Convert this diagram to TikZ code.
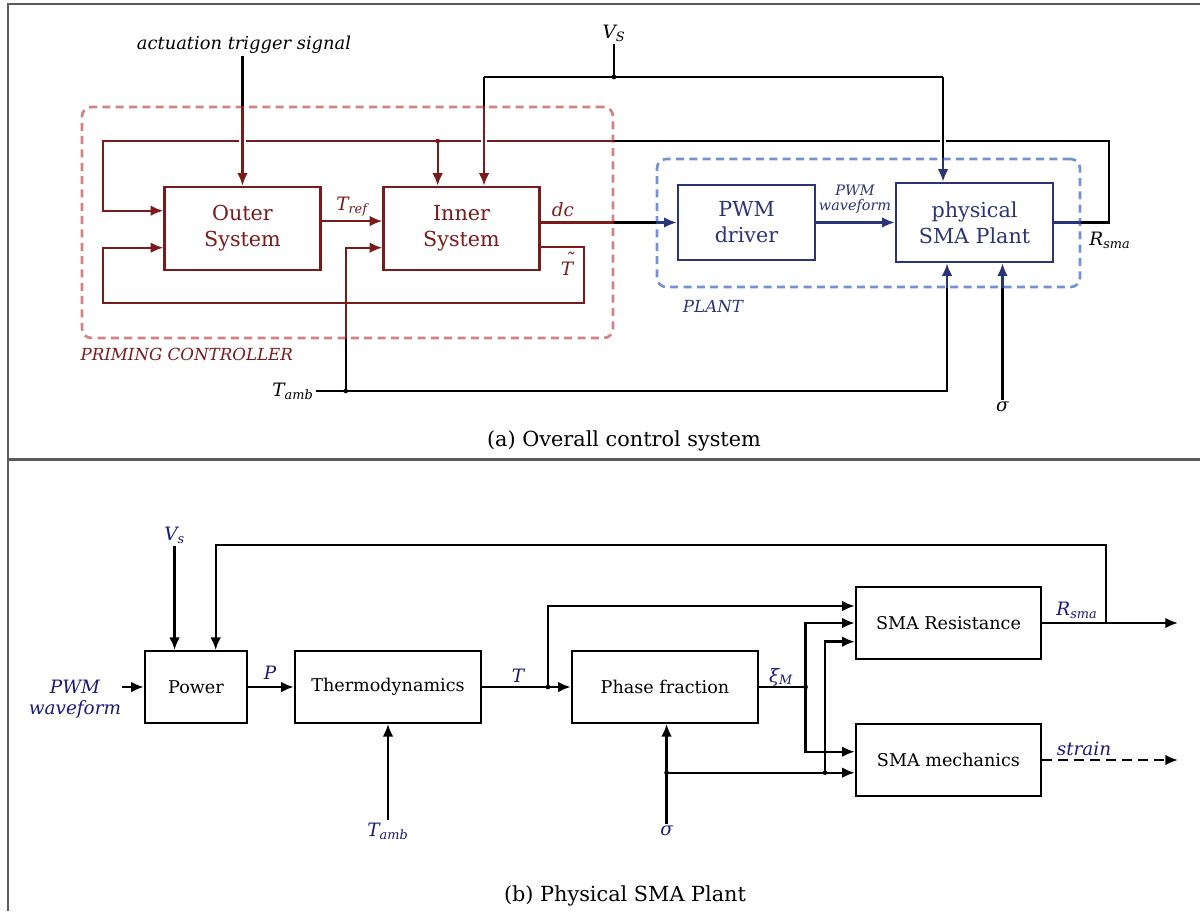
\documentclass[tikz,border=0pt]{standalone}
\usepackage{fontspec}
\setmainfont{DejaVu Serif}
\usetikzlibrary{arrows.meta,calc}
\definecolor{cred}{RGB}{122,26,26}
\definecolor{cdash}{RGB}{210,130,130}
\definecolor{cnavy}{RGB}{42,52,120}
\definecolor{cblue}{RGB}{115,145,212}
\definecolor{clab}{RGB}{25,25,120}
\definecolor{cframe}{RGB}{90,90,90}
\newcommand\fboxA{\fontsize{15.5}{19.5}\selectfont}
\newcommand\fboxB{\fontsize{13.2}{16}\selectfont}
\newcommand\flab{\fontsize{13.8}{15.5}\selectfont\itshape}
\newcommand\fsmall{\fontsize{10.8}{12}\selectfont\itshape}
\newcommand\fcap{\fontsize{15.6}{18}\selectfont}
\newcommand\Ttilde{\makebox[0pt][l]{\hspace{0.22em}\raisebox{0.5em}{\char"02DC}}T}
\begin{document}
\begin{tikzpicture}[x=0.75pt,y=-0.75pt,
  >={Latex[length=9.5pt,width=8pt]},
  every path/.style={line width=1.8pt},
  redbox/.style={draw=cred,line width=1.8pt,text=cred,font=\fboxA,align=center,inner sep=0pt,minimum width=117pt,minimum height=62.3pt},
  navybox/.style={draw=cnavy,line width=1.8pt,text=cnavy,font=\fboxA,align=center,inner sep=0pt},
  blkbox/.style={draw=black,line width=1.8pt,font=\fboxB,align=center,inner sep=0pt,minimum height=53.6pt},
  dashbox/.style={draw,dashed,dash pattern=on 6pt off 4pt,line width=2pt,rounded corners=7pt,inner sep=0pt},
  lab/.style={font=\flab,inner sep=1pt},
  dot/.style={circle,fill,inner sep=0pt,minimum size=3.5pt},
  halo/.style={draw=white,line width=5pt}
]
\useasboundingbox (0,0) rectangle (1200,911);
% frame
\draw[cframe,line width=1.1pt] (8,911) -- (8,4) -- (1200,4);
\draw[cframe,line width=1.6pt] (8,459.5) -- (1200,459.5);

% ===== (a) =====
\node[dashbox,draw=cdash,minimum width=398.25pt,minimum height=173.25pt] (prim) at (347.5,222.5) {};
\node[dashbox,draw=cblue,minimum width=317.25pt,minimum height=96pt] (pbox) at (868.5,223) {};

\node[redbox] (outer) at (242.5,228.5) {Outer\\System};
\node[redbox] (inner) at (461.5,228.5) {Inner\\System};
\node[navybox,minimum width=102.8pt,minimum height=56.3pt] (pwm) at (746.5,222.5) {PWM\\driver};
\node[navybox,minimum width=117.8pt,minimum height=59.3pt] (plant) at (974.5,222.5) {physical\\SMA Plant};

\node[lab,font=\fontsize{13.4}{15}\selectfont\itshape] (trig) at (244,45) {actuation trigger signal};
\node[lab] (vsT) at (614,33) {V\textsubscript{S}};
\node[lab,anchor=east] (tambT) at (316,391) {T\textsubscript{amb}};
\node[lab] (sigT) at (1002.5,407) {σ};
\node[lab,text=cred] (trefL) at (352,207) {T\textsubscript{ref}};
\node[lab,text=cred] (dcL) at (563,210) {dc};
\node[lab,text=cred] (ttL) at (567,264) {\Ttilde};
\node[lab] (rsL) at (1110,240) {R\textsubscript{sma}};
\node[font=\fsmall,text=cnavy,align=center,inner sep=0pt] (pwL) at (855,199) {PWM\\[-1pt]waveform};
\node[lab,text=cnavy,font=\fontsize{12.5}{14}\selectfont\itshape] (plL) at (713,307) {PLANT};
\node[lab,text=cred,anchor=west,font=\fontsize{12.5}{14}\selectfont\itshape] (prL) at (78,354) {PRIMING CONTROLLER};
\node[font=\fcap] (capA) at (624,441) {(a) Overall control system};

\coordinate (vsdot) at (614,77);
\coordinate (lr) at (1109,141);
\coordinate (fbx) at (102.7,141);
\coordinate (bd) at (437.7,141);
\coordinate (tt) at (584,303);
\coordinate (tdot) at (345.7,391);
\coordinate (iv) at ([xshift=16.9pt]inner.north);
\coordinate (pv) at ([xshift=-23.6pt]plant.north);
\coordinate (pb) at ([xshift=-20.6pt]plant.south);
\coordinate (dcs) at (inner.east |- pwm.west);
\coordinate (tg) at (outer.north |- trig.south);

% top feedback loop (R_sma)
\draw[cnavy] (plant.east) -- (plant.east -| pbox.east);
\draw (plant.east -| pbox.east) -| (lr) -- (lr -| prim.east);
\draw[cred,->] (lr -| prim.east) -- (fbx) |- ([yshift=13.35pt]outer.west);
\draw[cred,->] (bd) -- (bd |- inner.north);
\node[dot,cred] at (bd) {};

% halos at crossings
\draw[halo] ($(outer.north |- fbx)+(0,-4)$) -- ++(0,8);
\draw[halo] ($(iv |- fbx)+(0,-4)$) -- ++(0,8);
\draw[halo] ($(pv |- fbx)+(0,-4)$) -- ++(0,8);

% actuation trigger
\draw (tg) -- (tg |- prim.north);
\draw[cred,->] (tg |- prim.north) -- (outer.north);

% V_S
\draw (vsT.south) -- (vsdot);
\draw (iv |- vsdot) -- (pv |- vsdot);
\draw (iv |- vsdot) -- (iv |- prim.north);
\draw[cred,->] (iv |- prim.north) -- (iv);
\draw (pv |- vsdot) -- (pv |- pbox.north);
\draw[cnavy,->] (pv |- pbox.north) -- (pv);
\node[dot] at (vsdot) {};

% T_ref
\draw[cred,->] ([yshift=5.6pt]outer.east) -- ([yshift=5.6pt]inner.west);
% dc
\draw[cred] (dcs) -- (dcs -| prim.east);
\draw (dcs -| prim.east) -- (dcs -| pbox.west);
\draw[cnavy,->] (dcs -| pbox.west) -- (pwm.west);
% PWM -> plant
\draw[cnavy,->] (pwm.east) -- (plant.west |- pwm.east);
% T tilde loop
\draw[cred,->] ([yshift=-13.9pt]inner.east) -| (tt) -- (tt -| fbx) |- ([yshift=-14.4pt]outer.west);
% T_amb
\draw (tambT.east) -- (tdot) -- (pb |- tdot) -- (pb |- pbox.south);
\draw[cnavy,->] (pb |- pbox.south) -- (pb);
\draw (tdot) -- (tdot |- prim.south);
\draw[cred,->] (tdot |- prim.south) |- ([yshift=-14.4pt]inner.west);
\node[dot] at (tdot) {};
% sigma
\draw (sigT.north) -- (sigT.north |- pbox.south);
\draw[cnavy,->] (sigT.north |- pbox.south) -- (sigT.north |- plant.south);

% ===== (b) =====
\node[blkbox,minimum width=76.5pt] (power) at (196,687) {Power};
\node[blkbox,minimum width=139.5pt] (thermo) at (388,687) {Thermodynamics};
\node[blkbox,minimum width=139.5pt] (phase) at (665,687) {Phase fraction};
\node[blkbox,minimum width=138.8pt,minimum height=54pt] (res) at (948.5,623) {SMA Resistance};
\node[blkbox,minimum width=138.8pt,minimum height=54pt] (mech) at (948.5,760) {SMA mechanics};

\node[lab,text=clab,align=center,inner sep=0pt] (pwmB) at (75,699) {PWM\\waveform};
\node[lab,text=clab] (vsB) at (174.6,535) {V\textsubscript{s}};
\node[lab,text=clab] (pL) at (270,673) {P};
\node[lab,text=clab] (tL) at (518,676) {T};
\node[lab,text=clab] (tambB) at (388,831) {T\textsubscript{amb}};
\node[lab,text=clab] (xiL) at (781,677) {ξ\textsubscript{M}};
\node[lab,text=clab] (sigB) at (666.6,831) {σ};
\node[lab,text=clab] (rsB) at (1077,610) {R\textsubscript{sma}};
\node[lab,text=clab] (stL) at (1084,749) {strain};
\node[font=\fcap] (capB) at (625,896) {(b) Physical SMA Plant};

\coordinate (fbA) at (1106,623);
\coordinate (fbB) at (215.7,545);
\coordinate (rsEnd) at (1178,623);
\coordinate (stEnd) at (1178,760);
\coordinate (dotT) at (547.9,687);
\coordinate (dotX) at (805.6,687);
\coordinate (dotS) at (666.6,772.7);
\coordinate (dotS2) at (825,772.7);

\draw[->] (pwmB.east |- power.west) -- (power.west);
\draw[->] (vsB.south) -- (vsB.south |- power.north);
\draw[->] (fbA) |- (fbB) -- (fbB |- power.north);
\draw[->] (power.east) -- (thermo.west);
\draw[->] (tambB.north) -- (thermo.south);
\draw[->] (thermo.east) -- (phase.west);
\draw[->] (dotT) |- ([yshift=12.75pt]res.west);
\draw (phase.east) -- (dotX);
\draw[->] (dotX) |- (res.west);
\draw[->] (dotX) |- ([yshift=6.2pt]mech.west);
\draw[->] (sigB.north) -- (sigB.north |- phase.south);
\draw[->] (dotS) -- (dotS -| mech.west);
\draw[->] (dotS2) |- ([yshift=-14pt]res.west);
\draw[->] (res.east) -- (rsEnd);
\draw[->,dashed,dash pattern=on 7pt off 5pt] (mech.east) -- (stEnd);
\node[dot] at (dotT) {};
\node[dot] at (dotX) {};
\node[dot] at (dotS) {};
\node[dot] at (dotS2) {};
\end{tikzpicture}
\end{document}
